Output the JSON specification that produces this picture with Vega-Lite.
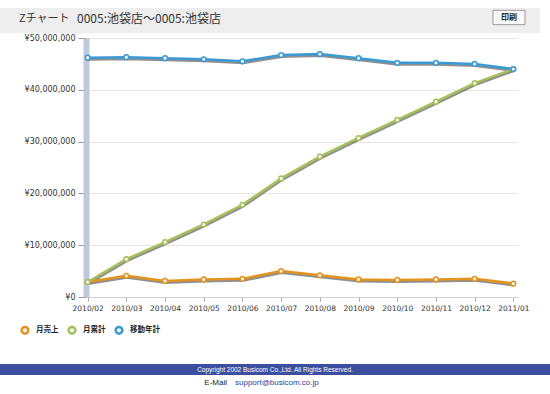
{
  "$schema": "https://vega.github.io/schema/vega-lite/v6.json",
  "background": "#ffffff",
  "padding": {"left": 0, "top": 8, "right": 0, "bottom": 0},
  "config": {"view": {"stroke": null}, "font": "Noto Sans CJK JP"},
  "bounds": "flush",
  "spacing": 5,
  "vconcat": [
    {
      "width": 540,
      "height": 25,
      "view": {"fill": "#eeeeee", "stroke": null},
      "data": {"values": [{"t1": "Zチャート", "t2": "0005:池袋店～0005:池袋店", "label": "印刷"}]},
      "layer": [
        {"mark": {"type": "text", "align": "left", "fontSize": 11, "xOffset": -251, "yOffset": -2, "color": "#333333"}, "encoding": {"text": {"field": "t1"}}},
        {"mark": {"type": "text", "align": "left", "fontSize": 12, "xOffset": -193, "yOffset": -2, "color": "#333333"}, "encoding": {"text": {"field": "t2"}}},
        {"mark": {"type": "point", "shape": "M-1,-0.45L1,-0.45L1,0.45L-1,0.45Z", "size": 1024, "filled": true, "fill": "#fafafa", "stroke": "#999999", "strokeWidth": 1, "opacity": 1, "xOffset": 239, "yOffset": -3}, "encoding": {}},
        {"mark": {"type": "text", "fontSize": 8, "fontWeight": "bold", "xOffset": 239, "yOffset": -3, "color": "#222222"}, "encoding": {"text": {"field": "label"}}}
      ]
    },
    {
      "spacing": 52,
      "vconcat": [
        {
          "bounds": "flush",
          "spacing": 0,
          "hconcat": [
            {
              "width": 83,
              "height": 259,
              "data": {"values": [{}]},
              "mark": {"type": "point", "opacity": 0},
              "encoding": {}
            },
            {
              "width": 435,
              "height": 259,
              "data": {"values": [
                {"month": "2010/02", "series": "月売上", "value": 2900000},
                {"month": "2010/03", "series": "月売上", "value": 4100000},
                {"month": "2010/04", "series": "月売上", "value": 3100000},
                {"month": "2010/05", "series": "月売上", "value": 3400000},
                {"month": "2010/06", "series": "月売上", "value": 3500000},
                {"month": "2010/07", "series": "月売上", "value": 5000000},
                {"month": "2010/08", "series": "月売上", "value": 4200000},
                {"month": "2010/09", "series": "月売上", "value": 3400000},
                {"month": "2010/10", "series": "月売上", "value": 3300000},
                {"month": "2010/11", "series": "月売上", "value": 3400000},
                {"month": "2010/12", "series": "月売上", "value": 3500000},
                {"month": "2011/01", "series": "月売上", "value": 2600000},
                {"month": "2010/02", "series": "月累計", "value": 2900000},
                {"month": "2010/03", "series": "月累計", "value": 7300000},
                {"month": "2010/04", "series": "月累計", "value": 10600000},
                {"month": "2010/05", "series": "月累計", "value": 14000000},
                {"month": "2010/06", "series": "月累計", "value": 17800000},
                {"month": "2010/07", "series": "月累計", "value": 22900000},
                {"month": "2010/08", "series": "月累計", "value": 27100000},
                {"month": "2010/09", "series": "月累計", "value": 30700000},
                {"month": "2010/10", "series": "月累計", "value": 34200000},
                {"month": "2010/11", "series": "月累計", "value": 37700000},
                {"month": "2010/12", "series": "月累計", "value": 41300000},
                {"month": "2011/01", "series": "月累計", "value": 44000000},
                {"month": "2010/02", "series": "移動年計", "value": 46200000},
                {"month": "2010/03", "series": "移動年計", "value": 46300000},
                {"month": "2010/04", "series": "移動年計", "value": 46100000},
                {"month": "2010/05", "series": "移動年計", "value": 45900000},
                {"month": "2010/06", "series": "移動年計", "value": 45500000},
                {"month": "2010/07", "series": "移動年計", "value": 46700000},
                {"month": "2010/08", "series": "移動年計", "value": 46900000},
                {"month": "2010/09", "series": "移動年計", "value": 46100000},
                {"month": "2010/10", "series": "移動年計", "value": 45200000},
                {"month": "2010/11", "series": "移動年計", "value": 45200000},
                {"month": "2010/12", "series": "移動年計", "value": 45000000},
                {"month": "2011/01", "series": "移動年計", "value": 44000000}
              ]},
              "encoding": {
                "x": {"field": "month", "type": "ordinal", "sort": null, "scale": {"type": "point", "padding": 0.12},
                      "axis": {"title": null, "labelAngle": 0, "labelFont": "DejaVu Sans", "labelFontSize": 7.5, "labelColor": "#333333", "tickSize": 4, "tickColor": "#aaaaaa", "domainColor": "#d0d0d0", "labelPadding": 3, "grid": false}},
                "y": {"field": "value", "type": "quantitative", "scale": {"domain": [0, 50000000], "nice": false},
                      "axis": {"title": null, "values": [0, 10000000, 20000000, 30000000, 40000000, 50000000], "labelExpr": "'¥' + format(datum.value, ',')", "grid": true, "gridColor": "#e6e6e6", "domainColor": "#bccbdb", "domainWidth": 6, "offset": -3, "tickSize": 8, "tickColor": "#999999", "labelPadding": 3, "labelFont": "DejaVu Sans", "labelFontSize": 8, "labelColor": "#333333"}}
              },
              "layer": [
                {"mark": {"type": "line", "strokeWidth": 3, "color": "#333333", "opacity": 0.55, "yOffset": 1.5, "xOffset": 0.5}, "encoding": {"detail": {"field": "series"}}},
                {"mark": {"type": "line", "strokeWidth": 2.5},
                 "encoding": {"color": {"field": "series", "type": "nominal", "scale": {"domain": ["月売上", "月累計", "移動年計"], "range": ["#e3941f", "#a6c05c", "#3b9ad4"]},
                   "legend": {"orient": "none", "legendX": 20, "legendY": 317, "direction": "horizontal", "title": null, "symbolType": "circle", "symbolSize": 45, "symbolStrokeWidth": 2.5, "symbolFillColor": "#f4f4f4", "labelFontSize": 7.5, "labelFontWeight": "bold", "labelColor": "#222222", "columnPadding": 4, "labelOffset": 6}}}},
                {"mark": {"type": "point", "filled": false, "fill": "#f4f4f4", "size": 22, "strokeWidth": 1.5, "opacity": 1},
                 "encoding": {"color": {"field": "series", "type": "nominal"}}}
              ]
            }
          ]
        },
        {
          "bounds": "flush",
          "spacing": 2,
          "vconcat": [
            {
              "width": 550,
              "height": 11,
              "view": {"fill": "#3c4f9e", "stroke": null},
              "data": {"values": [{"t": "Copyright 2002 Busicom Co.,Ltd. All Rights Reserved."}]},
              "mark": {"type": "text", "color": "#ffffff", "fontSize": 6.5, "font": "Liberation Sans"},
              "encoding": {"text": {"field": "t"}}
            },
            {
              "width": 550,
              "height": 12,
              "data": {"values": [{"a": "E-Mail", "b": "support@busicom.co.jp"}]},
              "layer": [
                {"mark": {"type": "text", "align": "right", "xOffset": -48, "fontSize": 8, "color": "#222222", "font": "Liberation Sans"}, "encoding": {"text": {"field": "a"}}},
                {"mark": {"type": "text", "align": "left", "xOffset": -40, "fontSize": 8, "color": "#1a3fa0", "font": "Liberation Sans"}, "encoding": {"text": {"field": "b"}}}
              ]
            }
          ]
        }
      ]
    }
  ]
}
